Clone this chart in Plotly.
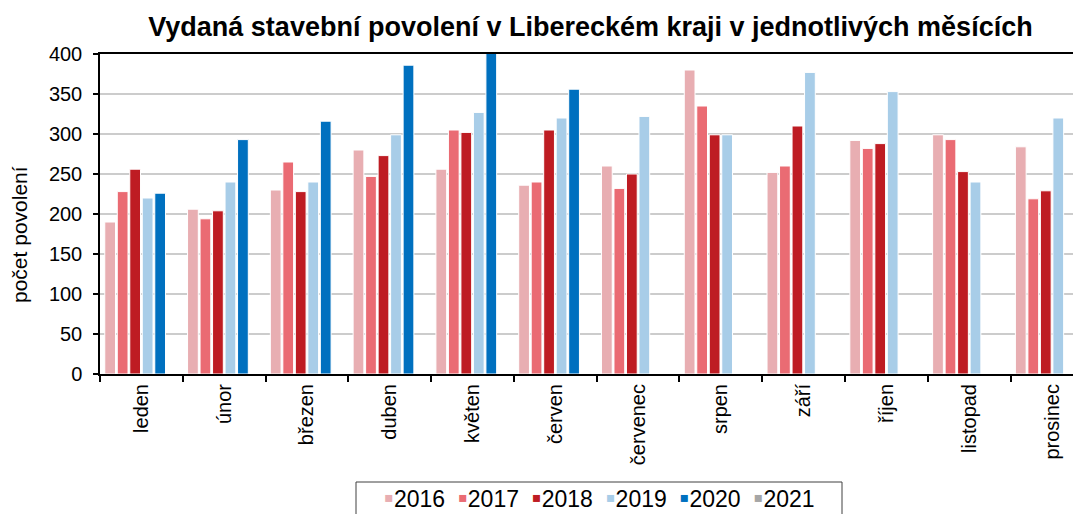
import plotly.graph_objects as go

months = ["leden", "únor", "březen", "duben", "květen", "červen",
          "červenec", "srpen", "září", "říjen", "listopad", "prosinec"]
years = ["2016", "2017", "2018", "2019", "2020", "2021"]
colors = ["#E8AEB2", "#EA6B73", "#BE1C23", "#A8CDE8", "#0070BF", "#A6A6A6"]

v2016 = [190, 206, 230, 280, 256, 236, 260, 380, 252, 292, 299, 284]
v2017 = [228, 194, 265, 247, 305, 240, 232, 335, 260, 282, 293, 219]
v2018 = [256, 204, 228, 273, 302, 305, 250, 299, 310, 288, 253, 229]
v2019 = [220, 240, 240, 299, 327, 320, 322, 299, 377, 353, 240, 320]
v2020 = [226, 293, 316, 386, 402, 356, None, None, None, None, None, None]
v2021 = [None] * 12
series = [v2016, v2017, v2018, v2019, v2020, v2021]

FONT = "Liberation Sans, Arial, sans-serif"
OFF = 8  # page body margin
PW, PH = 981, 320  # plot area size in px


def px_x(x):
    return (x - 100) / PW


def px_y(y):
    return (374 - y) / PH


fig = go.Figure()
for name, col, vals in zip(years, colors, series):
    fig.add_trace(go.Bar(
        x=months, y=vals, name=name,
        marker=dict(color=col, line=dict(color="white", width=1)),
        showlegend=False,
    ))

legend_text = "  ".join(
    f"<span style='font-size:28px;color:{c}'>▪</span>{y}"
    for y, c in zip(years, colors)
)

fig.update_layout(
    width=1081, height=514,
    margin=dict(l=100 - OFF, r=OFF, t=54 - OFF, b=514 - (374 - OFF)),
    paper_bgcolor="white", plot_bgcolor="white",
    barmode="group", bargap=0.094, bargroupgap=0.14,
    font=dict(family=FONT, color="black"),
    title=dict(
        text="<b>Vydaná stavební povolení v Libereckém kraji v jednotlivých měsících</b>",
        font=dict(size=27, family=FONT, color="black"),
        x=0.5, xref="paper", xanchor="center",
        y=1 - (27 - OFF) / 514, yref="container", yanchor="middle",
    ),
    xaxis=dict(
        type="category", categoryorder="array", categoryarray=months,
        range=[-0.5, 11.35],
        tickson="boundaries", ticks="outside", ticklen=6, tickwidth=1.5, tickcolor="black",
        tickangle=-90, tickfont=dict(size=20, family=FONT, color="black"),
        showline=True, linecolor="black", linewidth=2, mirror=True,
        showgrid=False, zeroline=False,
    ),
    yaxis=dict(
        range=[0, 400], dtick=50,
        ticks="outside", ticklen=5, tickwidth=1.5, tickcolor="black",
        ticklabelstandoff=7,
        tickfont=dict(size=20, family=FONT, color="black"),
        showline=True, linecolor="black", linewidth=1.5,
        showgrid=True, gridcolor="#CCCCCC", gridwidth=1.5,
        zeroline=False,
    ),
    shapes=[
        dict(
            type="rect", xref="paper", yref="paper",
            x0=px_x(356), x1=px_x(842), y0=px_y(540), y1=px_y(482),
            line=dict(color="#404040", width=1), fillcolor="rgba(0,0,0,0)",
            layer="above",
        ),
    ],
    annotations=[
        dict(
            text="počet povolení", textangle=-90,
            xref="paper", yref="paper",
            x=px_x(19), y=px_y(235),
            xanchor="center", yanchor="middle", showarrow=False,
            font=dict(size=21, family=FONT, color="black"),
        ),
        dict(
            text=legend_text,
            xref="paper", yref="paper",
            x=px_x(599), y=px_y(497),
            xanchor="center", yanchor="middle", showarrow=False,
            align="center",
            font=dict(size=23, family=FONT, color="black"),
        ),
    ],
)

fig.write_html("out.html")
